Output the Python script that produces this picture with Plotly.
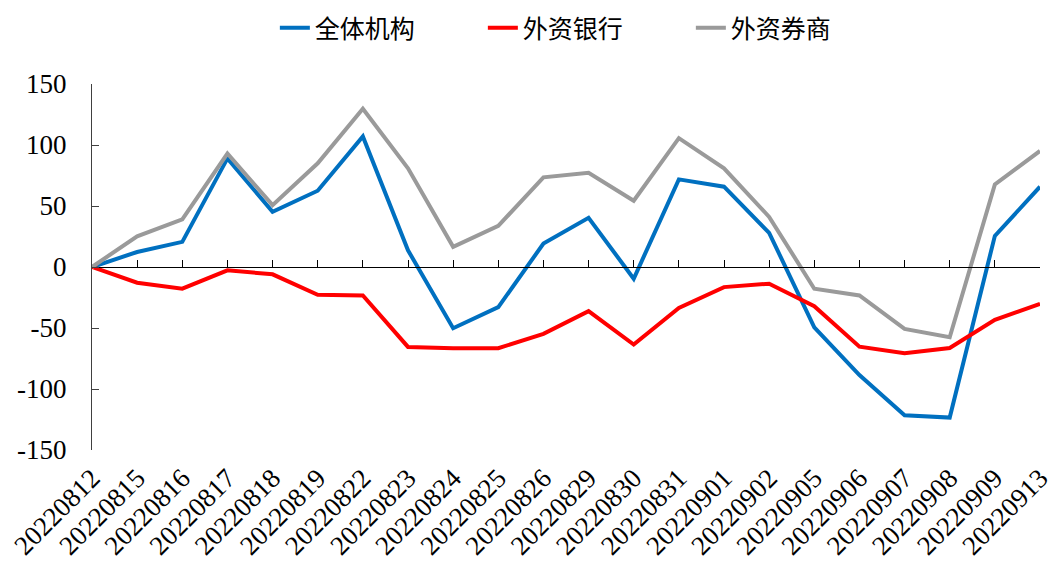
import plotly.graph_objects as go

dates = ["20220812", "20220815", "20220816", "20220817", "20220818", "20220819",
         "20220822", "20220823", "20220824", "20220825", "20220826", "20220829",
         "20220830", "20220831", "20220901", "20220902", "20220905", "20220906",
         "20220907", "20220908", "20220909", "20220913"]

all_inst = [0, 12.3, 20.6, 89, 45.2, 62.5, 107, 13.7, -50.2, -32.9, 19.2, 40.3,
            -9.6, 71.8, 65.8, 28, -49.4, -88.6, -121.5, -123.4, 25.5, 65.8]
foreign_bank = [0, -12.9, -17.8, -2.7, -6, -22.8, -23.3, -65.5, -66.6, -66.6, -54.8, -36.2,
                -63.6, -33.5, -16.5, -13.7, -32.1, -65.3, -70.7, -66.4, -43.3, -30.2]
foreign_broker = [0, 25.2, 39, 93, 50.7, 85, 129.7, 80.9, 16.5, 33.7, 73.5, 77.3,
                  54.3, 105.6, 80.9, 41.1, -17.8, -23.3, -50.7, -57.6, 67.7, 95.1]

series_names = ["全体机构", "外资银行", "外资券商"]
colors = ["#0070C0", "#FF0000", "#9A9A9A"]
y_ticks = [-150, -100, -50, 0, 50, 100, 150]
y_ticktext = ["-150", "-100", "-50", "0", "50", "100", "150"]

serif = "Liberation Serif"
cjk = "Noto Sans CJK SC"

fig = go.Figure()
for name, vals, c in zip(series_names, [all_inst, foreign_bank, foreign_broker], colors):
    fig.add_trace(go.Scatter(x=dates, y=vals, mode="lines", name=name,
                             line=dict(color=c, width=4)))
# empty trace so the zero-line category axis (x2) is rendered
fig.add_trace(go.Scatter(x=[], y=[], xaxis="x2", yaxis="y", showlegend=False,
                         hoverinfo="skip"))

# page body has an 8px default margin, so the figure is 8px smaller
W, H = 1054, 565
fig.update_layout(
    width=W, height=H,
    margin=dict(l=84, r=22, t=76, b=123, autoexpand=False),
    paper_bgcolor="white", plot_bgcolor="white",
    showlegend=True,
    legend=dict(orientation="h", x=0.522, xanchor="center", y=1.0 - 20 / H,
                yanchor="middle", yref="container",
                font=dict(family=cjk, size=25, color="black"),
                entrywidth=163, entrywidthmode="pixels", tracegroupgap=0),
    xaxis=dict(type="category", categoryorder="array", categoryarray=dates,
               range=[0, 21], showline=False, showgrid=False, zeroline=False,
               automargin=False,
               ticks="", tickangle=-45, ticklabelstandoff=6,
               tickfont=dict(family=serif, size=27, color="black")),
    xaxis2=dict(type="category", categoryorder="array", categoryarray=dates,
                range=[0, 21], overlaying="x", anchor="free", position=0.5,
                side="bottom", showline=True, linecolor="black", linewidth=1,
                ticks="inside", ticklen=7, tickcolor="black", tickwidth=1,
                automargin=False,
                showticklabels=False, showgrid=False, zeroline=False),
    yaxis=dict(range=[-150, 150], tickvals=y_ticks, ticktext=y_ticktext,
               showline=True, automargin=False,
               linecolor="#404040", linewidth=1, ticks="inside", ticklen=7,
               tickcolor="#404040", showgrid=False, zeroline=False,
               ticklabelstandoff=19,
               tickfont=dict(family=serif, size=27, color="black")),
)
fig.write_html("out.html")
